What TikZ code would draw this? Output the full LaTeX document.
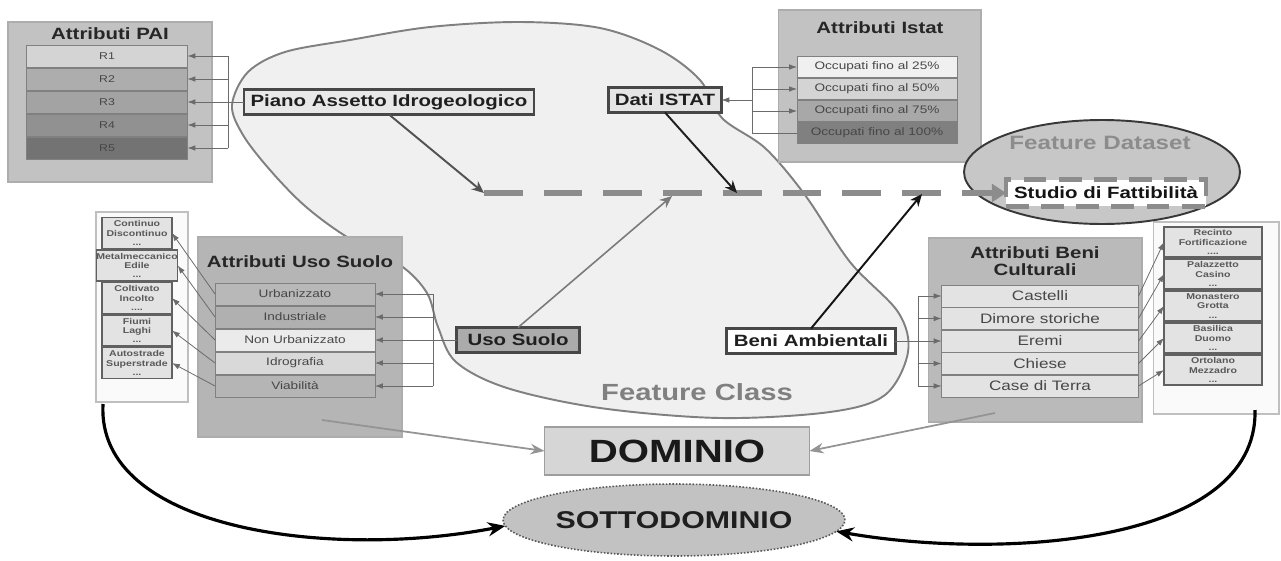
\documentclass[tikz,border=0pt]{standalone}
\usepackage{fontspec}
\setmainfont{Liberation Sans}[FakeStretch=1.25]
\usetikzlibrary{positioning,shapes.geometric,arrows.meta}

\newcommand\pxfont[2]{\fontsize{#1}{#2}\selectfont}

\begin{document}
\begin{tikzpicture}[
    x=0.02cm, y=-0.02cm,
    every node/.append style={inner sep=0pt, outer sep=0pt},
    outerbox/.style={draw=black!32, fill=black!24, line width=0.6pt},
    boxtitle/.style={font=\bfseries\pxfont{9.3pt}{10pt}, text=black!85, align=center},
    attrrow/.style={draw=black!50, line width=0.5pt, text=black!72, minimum height=0.43cm},
    subitem/.style={draw=black!62, fill=black!11, line width=0.7pt, align=center,
        font=\bfseries\pxfont{4.8pt}{5.3pt}, text=black!65},
    fclass/.style={draw=black!72, line width=1.3pt, font=\bfseries\pxfont{9.3pt}{10pt},
        text=black!88, inner xsep=3.6pt, minimum height=0.5cm},
    link/.style={draw=black!58, line width=0.45pt},
    linktip/.style={link, -{Latex[length=4.5pt,width=3.2pt]}},
    bigarrow/.style={line width=1.1pt, -{Stealth[length=7pt,width=6pt]}},
]
\useasboundingbox (0,0) rectangle (1281,561);

\draw[draw=black!50, fill=black!6, line width=1.1pt]
    plot[smooth cycle, tension=0.55] coordinates {(232,105) (248,72) (285,52) (350,40) (430,27) (520,22) (600,28) (660,50) (700,80) (722,118) (765,148) (805,195) (850,262) (898,312) (908,352) (885,395) (830,412) (720,418) (600,408) (507,388) (456,362) (438,327) (427,293) (400,265) (347,237) (305,206) (270,170) (243,135)};
\node[font=\bfseries\pxfont{13.3pt}{15pt}, text=black!50] (fclassLabel) at (697,392) {Feature Class};

\node[outerbox, minimum width=4.08cm, minimum height=3.2cm] (paiBox) at (110,102) {};
\node[boxtitle] (paiTitle) at (110,34) {Attributi PAI};
\foreach \i/\lev in {1/17,2/32,3/36,4/43,5/55}
    \node[attrrow, fill=black!\lev, minimum width=3.22cm, minimum height=0.44cm,
        font=\pxfont{5.6pt}{6pt}] (pai\i) at (107,{33+23*\i}) {R\i};

\node[outerbox, minimum width=4.06cm, minimum height=3.04cm] (istatBox) at (879.5,86) {};
\node[boxtitle] (istatTitle) at (880,28) {Attributi Istat};
\foreach \i/\lev/\p in {1/6/25,2/17/50,3/34/75,4/50/100}
    \node[attrrow, fill=black!\lev, minimum width=3.2cm, minimum height=0.42cm,
        font=\pxfont{6.2pt}{7pt}] (istat\i) at (877,{45+22*\i}) {Occupati fino al \p\%};

\node[outerbox, fill=black!29, minimum width=4.08cm, minimum height=4cm] (usoBox) at (300,337) {};
\node[boxtitle] (usoTitle) at (300,262) {Attributi Uso Suolo};
\foreach \i/\lev/\t in {1/28/Urbanizzato,2/31/Industriale,3/8/Non Urbanizzato,4/15/Idrografia,5/29/Viabilità}
    \node[attrrow, fill=black!\lev, minimum width=3.2cm, minimum height=0.44cm,
        font=\pxfont{6.2pt}{7pt}] (uso\i) at (295,{271+23*\i}) {\t};

\node[outerbox, fill=black!27, minimum width=4.28cm, minimum height=3.68cm] (beniBox) at (1035,330) {};
\node[boxtitle] (beniTitle) at (1035,261) {Attributi Beni\\Culturali};
\foreach \i/\t in {1/Castelli,2/Dimore storiche,3/Eremi,4/Chiese,5/Case di Terra}
    \node[attrrow, fill=black!11, minimum width=3.94cm, minimum height=0.44cm,
        font=\pxfont{7.8pt}{8pt}] (beni\i) at (1040,{273.5+22.5*\i}) {\t};

\node[draw=black!25, fill=black!2, line width=0.6pt, minimum width=1.84cm, minimum height=3.8cm] (leftPanel) at (142,307) {};
\foreach \i/\t in {1/{Continuo\\Discontinuo\\...},2/{Metalmeccanico\\Edile\\...},3/{Coltivato\\Incolto\\....},4/{Fiumi\\Laghi\\...},5/{Autostrade\\Superstrade\\...}}
    \node[subitem, minimum width=1.4cm, minimum height=0.62cm] (left\i) at (137,{200.5+32.5*\i}) {\t};

\node[draw=black!25, fill=black!2, line width=0.6pt, minimum width=2.52cm, minimum height=3.84cm] (rightPanel) at (1216,318) {};
\foreach \i/\t in {1/{Recinto\\Fortificazione\\....},2/{Palazzetto\\Casino\\...},3/{Monastero\\Grotta\\...},4/{Basilica\\Duomo\\...},5/{Ortolano\\Mezzadro\\...}}
    \node[subitem, minimum width=1.96cm, minimum height=0.6cm] (right\i) at (1213,{210+32*\i}) {\t};

\node[fclass, fill=black!9] (piano) at (389,102) {Piano Assetto Idrogeologico};
\node[fclass, fill=black!10] (dati) at (665,100) {Dati ISTAT};
\node[fclass, fill=black!33, minimum width=2.46cm] (usoNode) at (518,340) {Uso Suolo};
\node[fclass, fill=white, minimum width=3.38cm] (beniNode) at (811,341) {Beni Ambientali};

\foreach \i in {1,...,5} {
    \coordinate (paiBar\i) at (228,{33+23*\i});
    \draw[linktip] (paiBar\i) -- (pai\i.east);
}
\draw[link] (paiBar1) -- (paiBar5);
\draw[link] (piano.west) -- (paiBar3);

\foreach \i in {1,...,4}
    \coordinate (istatBar\i) at (752,{45+22*\i});
\coordinate (istatMid) at (752,100);
\foreach \i in {1,...,3}
    \draw[linktip] (istatBar\i) -- (istat\i.west);
\draw[link] (istatBar4) -- (istat4.west);
\draw[link] (istatBar1) -- (istatBar4);
\draw[linktip] (istatMid) -- (dati.east);

\foreach \i in {1,...,5} {
    \coordinate (usoBar\i) at (433,{271+23*\i});
    \draw[linktip] (usoBar\i) -- (uso\i.east);
    \draw[linktip] (uso\i.west) -- (left\i.east);
}
\draw[link] (usoBar1) -- (usoBar5);
\draw[link] (usoNode.west) -- (usoBar3);

\foreach \i in {1,...,5} {
    \coordinate (beniBar\i) at (918,{273.5+22.5*\i});
    \draw[linktip] (beniBar\i) -- (beni\i.west);
    \draw[linktip] (beni\i.east) -- (right\i.west);
}
\draw[link] (beniBar1) -- (beniBar5);
\draw[link] (beniNode.east) -- (beniBar3);

\node[ellipse, draw=black!78, line width=1.1pt, fill=black!22, minimum width=5.52cm, minimum height=2.08cm] (dataset) at (1102,172) {};
\node[font=\bfseries\pxfont{11pt}{12pt}, text=black!45] (datasetLabel) at (1100,143) {Feature Dataset};
\node[draw=black!45, line width=2.4pt, dash pattern=on 13pt off 7pt, fill=white,
    font=\bfseries\pxfont{9.3pt}{10pt}, text=black!92, minimum width=4cm, minimum height=0.54cm] (studio) at (1106,193) {Studio di Fattibilità};

\coordinate (dashStart) at (484,193);
\coordinate (istatHit) at (737,193);
\coordinate (usoHit) at (672,196);
\coordinate (beniHit) at (922,194);
\draw[draw=black!45, line width=3.4pt, dash pattern=on 22pt off 12pt,
    -{Triangle[length=8pt,width=10pt]}] (dashStart) -- (studio.west);

\draw[bigarrow, draw=black!68] (piano.south) -- (dashStart);
\draw[bigarrow, draw=black!88] (dati.south) -- (istatHit);
\draw[bigarrow, draw=black!52, line width=0.9pt] (usoNode.north) -- (usoHit);
\draw[bigarrow, draw=black!92] (beniNode.north) -- (beniHit);

\node[draw=black!38, fill=black!16, line width=0.6pt, minimum width=5.3cm, minimum height=0.96cm,
    font=\bfseries\pxfont{18.3pt}{20pt}, text=black!90] (dominio) at (677,451) {DOMINIO};
\node[ellipse, draw=black!65, densely dotted, line width=0.9pt, fill=black!24, minimum width=6.84cm, minimum height=1.44cm,
    font=\bfseries\pxfont{13.8pt}{15pt}, text=black!88] (sotto) at (674,520) {SOTTODOMINIO};

\coordinate (usoFoot) at (322,420);
\coordinate (beniFoot) at (995,413);
\draw[draw=black!42, line width=1pt, -{Stealth[length=8pt,width=6pt]}] (usoFoot) -- (dominio.west);
\draw[draw=black!42, line width=1pt, -{Stealth[length=8pt,width=6pt]}] (beniFoot) -- (dominio.east);

\coordinate (leftFoot) at (103,404);
\coordinate (rightFoot) at (1255,410);
\draw[line width=1.8pt, -{Stealth[length=10pt,width=8pt]}] (leftFoot) .. controls (96,530) and (330,560) .. (sotto.182);
\draw[line width=1.8pt, -{Stealth[length=10pt,width=8pt]}] (rightFoot) .. controls (1258,545) and (1000,560) .. (sotto.-4);
\end{tikzpicture}
\end{document}
